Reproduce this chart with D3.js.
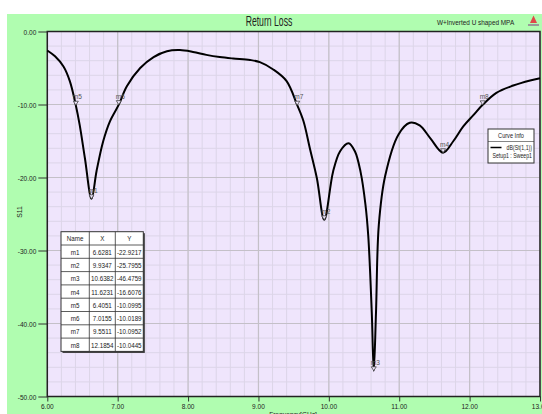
<!DOCTYPE html>
<html>
<head>
<meta charset="utf-8">
<script src="https://cdn.jsdelivr.net/npm/d3@7"></script>
<style>
  body { margin: 0; background: #fff; }
  text { font-family: 'Liberation Sans', Arial, sans-serif; }
</style>
</head>
<body>
<div id="chart"></div>
<script>
// curve S11
const freq = [6.00, 6.11, 6.23, 6.32, 6.4051, 6.46, 6.535, 6.6281, 6.70, 6.795, 6.89, 7.0155, 7.13, 7.32, 7.51, 7.70, 7.885,
  8.07, 8.26, 8.45, 8.64, 8.88, 9.02, 9.21, 9.40, 9.5511, 9.64, 9.73, 9.83, 9.9347, 10.06, 10.16, 10.28, 10.37, 10.45,
  10.52, 10.56, 10.61, 10.6382, 10.67, 10.71, 10.80, 10.99, 11.15, 11.29, 11.44, 11.6231, 11.77, 11.91, 12.05, 12.1854,
  12.38, 12.62, 12.86, 13.00];
const s11 = [-2.6, -3.4, -4.8, -6.8, -10.0995, -12.8, -17.4, -22.9217, -19.1, -15.0, -12.3, -10.0189, -7.5, -5.0, -3.5, -2.7, -2.55,
  -2.8, -3.2, -3.5, -3.7, -3.9, -4.2, -5.2, -6.8, -10.0952, -12.3, -16.0, -20.1, -25.7955, -19.2, -16.4, -15.3, -16.4, -19.2,
  -23.7, -28.0, -38.5, -46.4759, -38.5, -26.5, -19.8, -14.1, -12.5, -12.85, -14.6, -16.6076, -15.0, -13.0, -11.5, -10.0445,
  -8.4, -7.4, -6.7, -6.4];

// markers
const markerNames = ["m1", "m2", "m3", "m4", "m5", "m6", "m7", "m8"];
const markerFreq = [6.6281, 9.9347, 10.6382, 11.6231, 6.4051, 7.0155, 9.5511, 12.1854];
const markerS11 = [-22.9217, -25.7955, -46.4759, -16.6076, -10.0995, -10.0189, -10.0952, -10.0445];

// ticks
const xMajor = [6, 7, 8, 9, 10, 11, 12, 13];
const xMinor = d3.range(6, 13.001, 0.2);
const yMajor = [0, -10, -20, -30, -40, -50];
const yMinor = d3.range(0, -50.001, -2);

const W = 542, H = 414;
const plot = { left: 47.3, right: 540, top: 31.5, bottom: 396.5 };
const LAV = "#efe5fc";

const svg = d3.select("#chart").append("svg")
  .attr("width", W)
  .attr("height", H);

// narrow text: squeeze horizontally like the original's condensed font
const ntext = (g, tx, ty, str, size, sx, anchor) => g.append("text")
  .attr("transform", `translate(${tx},${ty}) scale(${sx},1)`)
  .attr("text-anchor", anchor || "start")
  .style("font-size", size + "px")
  .attr("fill", "#222")
  .text(str);

// green panel
svg.append("rect")
  .attr("x", 7).attr("y", 14)
  .attr("width", W - 7).attr("height", H - 14)
  .attr("fill", "#b0fdb0");

// plot background
svg.append("rect")
  .attr("x", plot.left).attr("y", plot.top)
  .attr("width", plot.right - plot.left).attr("height", plot.bottom - plot.top)
  .attr("fill", LAV);

const x = d3.scaleLinear().domain([6, 13]).range([plot.left, plot.right]);
const y = d3.scaleLinear().domain([-50, 0]).range([plot.bottom, plot.top]);

// grid
const grid = svg.append("g");
grid.selectAll(".gxm").data(xMinor).join("line")
  .attr("x1", d => x(d)).attr("x2", d => x(d))
  .attr("y1", plot.top).attr("y2", plot.bottom)
  .attr("stroke", "#dcd5e8").attr("stroke-width", 1);
grid.selectAll(".gym").data(yMinor).join("line")
  .attr("y1", d => y(d)).attr("y2", d => y(d))
  .attr("x1", plot.left).attr("x2", plot.right)
  .attr("stroke", "#dcd5e8").attr("stroke-width", 1);
grid.selectAll(".gxM").data(xMajor).join("line")
  .attr("x1", d => x(d)).attr("x2", d => x(d))
  .attr("y1", plot.top).attr("y2", plot.bottom)
  .attr("stroke", "#c4c0c8").attr("stroke-width", 1.2);
grid.selectAll(".gyM").data(yMajor).join("line")
  .attr("y1", d => y(d)).attr("y2", d => y(d))
  .attr("x1", plot.left).attr("x2", plot.right)
  .attr("stroke", "#c4c0c8").attr("stroke-width", 1.2);

const fmt = d => d.toFixed(2);

// y axis ticks (labels drawn below, squeezed)
const yAx = svg.append("g").attr("transform", `translate(${plot.left},0)`);
yAx.call(d3.axisLeft(y).tickValues(yMinor).tickSize(5).tickFormat(""));
yAx.call(d3.axisLeft(y).tickValues(yMajor).tickSize(9).tickFormat(""));
yAx.selectAll(".domain").remove();
yAx.selectAll("line").attr("stroke", "#333");
yMajor.forEach(v => ntext(svg, plot.left - 11, y(v) + 3, fmt(v), 8, 0.82, "end"));

// x axis ticks
const xAx = svg.append("g").attr("transform", `translate(0,${plot.bottom})`);
xAx.call(d3.axisBottom(x).tickValues(xMinor).tickSize(2.5).tickFormat(""));
xAx.call(d3.axisBottom(x).tickValues(xMajor).tickSize(5).tickFormat(""));
xAx.selectAll(".domain").remove();
xAx.selectAll("line").attr("stroke", "#333");
xMajor.forEach(v => ntext(svg, x(v), 409, fmt(v), 8, 0.82, "middle"));

// plot frame
svg.append("rect")
  .attr("x", plot.left).attr("y", plot.top)
  .attr("width", plot.right - plot.left).attr("height", plot.bottom - plot.top)
  .attr("fill", "none").attr("stroke", "#222").attr("stroke-width", 1.5);

// axis labels
svg.append("text")
  .attr("transform", "translate(22,212) rotate(-90) scale(0.85,1)")
  .attr("text-anchor", "middle")
  .style("font-size", "8px").attr("fill", "#222")
  .text("S11");
ntext(svg, 293, 417, "Frequency[GHz]", 8, 0.82, "middle");

// titles
ntext(svg, 269, 25.5, "Return Loss", 14, 0.62, "middle");
ntext(svg, 437, 25, "W+Inverted U shaped MPA", 8, 0.8, "start");

// little logo at top right
svg.append("path")
  .attr("d", "M530,23 L533.5,15.5 L537,23 Z")
  .attr("fill", "#e04848");
svg.append("rect")
  .attr("x", 528).attr("y", 24).attr("width", 11).attr("height", 2)
  .attr("fill", "#999");

// curve
const pts = freq.map((f, i) => [f, s11[i]]);
svg.append("path")
  .datum(pts)
  .attr("fill", "none")
  .attr("stroke", "#000")
  .attr("stroke-width", 2)
  .attr("stroke-linejoin", "round")
  .attr("d", d3.line()
    .x(d => x(d[0]))
    .y(d => y(d[1]))
    .curve(d3.curveCatmullRom.alpha(0.5)));

// markers
const mk = svg.append("g");
markerNames.forEach((name, i) => {
  const mx = x(markerFreq[i]), my = y(markerS11[i]);
  mk.append("path")
    .attr("d", `M${mx - 2.5},${my - 4} L${mx + 2.5},${my - 4} L${mx},${my} Z`)
    .attr("fill", LAV).attr("stroke", "#444").attr("stroke-width", 0.8);
  ntext(mk, mx - 3, my - 6, name, 8, 0.82, "start").attr("fill", "#555");
});

// marker table
const tbl = { x: 61, y: 231.7, rowH: 13.3, cols: [28.3, 26, 28] };
const header = ["Name", "X", "Y"];
const rows = [header].concat(markerNames.map((n, i) => [n, markerFreq[i].toFixed(4), markerS11[i].toFixed(4)]));
const tW = d3.sum(tbl.cols), tH = rows.length * tbl.rowH;
const tg = svg.append("g");
tg.append("rect")
  .attr("x", tbl.x + 1.5).attr("y", tbl.y + 1.5)
  .attr("width", tW).attr("height", tH)
  .attr("fill", "#333");
tg.append("rect")
  .attr("x", tbl.x).attr("y", tbl.y)
  .attr("width", tW).attr("height", tH)
  .attr("fill", "#fff").attr("stroke", "#333").attr("stroke-width", 1);
const colX = [0, tbl.cols[0], tbl.cols[0] + tbl.cols[1], tW];
colX.slice(1, 3).forEach(cx => {
  tg.append("line")
    .attr("x1", tbl.x + cx).attr("x2", tbl.x + cx)
    .attr("y1", tbl.y).attr("y2", tbl.y + tH)
    .attr("stroke", "#333").attr("stroke-width", 0.8);
});
rows.forEach((r, ri) => {
  if (ri > 0) {
    tg.append("line")
      .attr("x1", tbl.x).attr("x2", tbl.x + tW)
      .attr("y1", tbl.y + ri * tbl.rowH).attr("y2", tbl.y + ri * tbl.rowH)
      .attr("stroke", "#333").attr("stroke-width", 0.8);
  }
  r.forEach((c, ci) => {
    ntext(tg, tbl.x + (colX[ci] + colX[ci + 1]) / 2, tbl.y + ri * tbl.rowH + 9.6, c, 8, 0.78, "middle");
  });
});

// curve info legend
const lg = svg.append("g");
lg.append("rect")
  .attr("x", 488).attr("y", 129).attr("width", 46).attr("height", 34)
  .attr("fill", "#fff").attr("stroke", "#333").attr("stroke-width", 1);
ntext(lg, 511, 138, "Curve Info", 7, 0.8, "middle");
lg.append("line")
  .attr("x1", 488).attr("x2", 534).attr("y1", 141.5).attr("y2", 141.5)
  .attr("stroke", "#333").attr("stroke-width", 0.6);
lg.append("line")
  .attr("x1", 490.5).attr("x2", 501.5).attr("y1", 147.5).attr("y2", 147.5)
  .attr("stroke", "#000").attr("stroke-width", 1.5);
ntext(lg, 532, 149.5, "dB(St(1,1))", 6.5, 0.8, "end");
ntext(lg, 532, 157.5, "Setup1 : Sweep1", 6.5, 0.8, "end");
</script>
</body>
</html>
